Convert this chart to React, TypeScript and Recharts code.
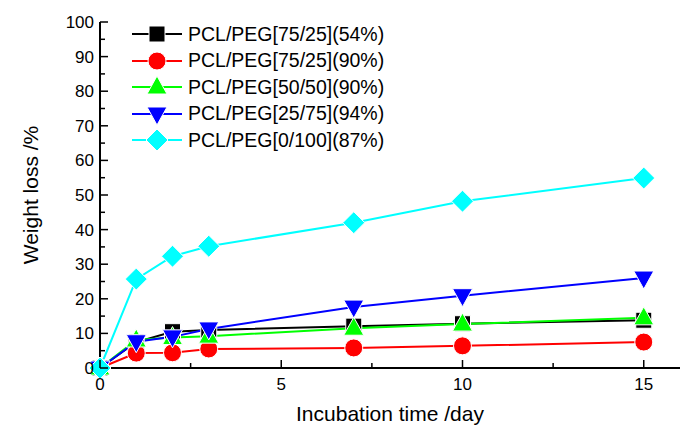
import React from "react"
import { LineChart, XAxis, YAxis, Line, Legend, Label } from "recharts"

const days = [0, 1, 2, 3, 7, 10, 15]
const pcl75_25_54 = [0, 7.5, 10.5, 11, 12.1, 12.8, 13.8]
const pcl75_25_90 = [0, 4.3, 4.4, 5.5, 5.8, 6.4, 7.5]
const pcl50_50_90 = [0, 8.1, 8.8, 9.2, 11.5, 12.7, 14.5]
const pcl25_75_94 = [0, 7.6, 9, 11.3, 17.6, 20.9, 26]
const pcl0_100_87 = [0, 25.7, 32.3, 35.2, 42, 48.2, 54.9]

const xTicks = [0, 2.5, 5, 7.5, 10, 12.5, 15]
const yTicks = [0, 5, 10, 15, 20, 25, 30, 35, 40, 45, 50, 55, 60, 65, 70, 75, 80, 85, 90, 95, 100]

const FONT = "'Liberation Sans', Arial, sans-serif"

type Shape = "square" | "circle" | "triangle" | "triangleDown" | "diamond"

const series: { key: string; name: string; color: string; shape: Shape; values: number[] }[] = [
    { key: "s1", name: "PCL/PEG[75/25](54%)", color: "#000000", shape: "square", values: pcl75_25_54 },
    { key: "s2", name: "PCL/PEG[75/25](90%)", color: "#ff0000", shape: "circle", values: pcl75_25_90 },
    { key: "s3", name: "PCL/PEG[50/50](90%)", color: "#00ff00", shape: "triangle", values: pcl50_50_90 },
    { key: "s4", name: "PCL/PEG[25/75](94%)", color: "#0000ff", shape: "triangleDown", values: pcl25_75_94 },
    { key: "s5", name: "PCL/PEG[0/100](87%)", color: "#00ffff", shape: "diamond", values: pcl0_100_87 },
]

const data = days.map((d, i) => {
    const row: Record<string, number> = { day: d }
    series.forEach(s => { row[s.key] = s.values[i] })
    return row
})

function Marker(props: { cx: number; cy: number; color: string; shape: Shape }) {
    const { cx, cy, color, shape } = props
    const common = { fill: color, stroke: "#ffffff", strokeWidth: 1 }
    if (shape === "square") return <rect x={cx - 8} y={cy - 8} width={16} height={16} {...common} />
    if (shape === "circle") return <circle cx={cx} cy={cy} r={9} {...common} />
    if (shape === "triangle")
        return <polygon points={`${cx},${cy - 11} ${cx + 10},${cy + 7} ${cx - 10},${cy + 7}`} {...common} />
    if (shape === "triangleDown")
        return <polygon points={`${cx},${cy + 11} ${cx + 10},${cy - 7} ${cx - 10},${cy - 7}`} {...common} />
    return <polygon points={`${cx},${cy - 11} ${cx + 11},${cy} ${cx},${cy + 11} ${cx - 11},${cy}`} {...common} />
}

function XTick(props: any) {
    const { x, y, payload } = props
    const major = payload.value % 5 === 0
    return (
        <g>
            <line x1={x} y1={y} x2={x} y2={y - (major ? 8 : 5)} stroke="#000" strokeWidth={1.5} />
            {major && (
                <text x={x} y={y + 22} textAnchor="middle" fontSize={17} fontFamily={FONT} fill="#000">
                    {payload.value}
                </text>
            )}
        </g>
    )
}

function YTick(props: any) {
    const { x, y, payload } = props
    const major = payload.value % 10 === 0
    return (
        <g>
            <line x1={x} y1={y} x2={x + (major ? 8 : 5)} y2={y} stroke="#000" strokeWidth={1.5} />
            {major && (
                <text x={x - 6} y={y + 6} textAnchor="end" fontSize={17} fontFamily={FONT} fill="#000">
                    {payload.value}
                </text>
            )}
        </g>
    )
}

function LegendBox() {
    return (
        <div style={{ fontFamily: FONT }}>
            {series.map(s => (
                <div key={s.key} style={{ display: "flex", alignItems: "center", height: 26.5 }}>
                    <svg width={56} height={26} style={{ display: "block" }}>
                        <line x1={2} y1={13} x2={52} y2={13} stroke={s.color} strokeWidth={2} />
                        <Marker cx={27} cy={13} color={s.color} shape={s.shape} />
                    </svg>
                    <span style={{ fontSize: 19.5, marginLeft: 2, color: "#000", whiteSpace: "nowrap" }}>{s.name}</span>
                </div>
            ))}
        </div>
    )
}

export default function App() {
    return (
        <div style={{ position: "absolute", left: 0, top: 0 }}>
            <LineChart
                width={681}
                height={426}
                data={data}
                margin={{ top: 22, right: 1, left: 0, bottom: 0 }}
            >
                <XAxis
                    dataKey="day"
                    type="number"
                    domain={[0, 16]}
                    ticks={xTicks}
                    height={58}
                    tickSize={0}
                    tickMargin={0}
                    tick={<XTick />}
                    axisLine={{ stroke: "#000", strokeWidth: 2 }}
                    tickLine={false}
                    interval={0}
                >
                    <Label
                        value="Incubation time /day"
                        position="insideBottom"
                        offset={5}
                        style={{ fontSize: 21, fontFamily: FONT, fill: "#000" }}
                    />
                </XAxis>
                <YAxis
                    type="number"
                    domain={[0, 100]}
                    ticks={yTicks}
                    width={100}
                    tickSize={0}
                    tickMargin={0}
                    tick={<YTick />}
                    axisLine={{ stroke: "#000", strokeWidth: 2 }}
                    tickLine={false}
                    interval={0}
                >
                    <Label
                        content={() => (
                            <text
                                x={30}
                                y={195}
                                transform="rotate(-90 30 195)"
                                textAnchor="middle"
                                dominantBaseline="central"
                                fontSize={21}
                                fontFamily={FONT}
                                fill="#000"
                            >
                                Weight loss /%
                            </text>
                        )}
                    />
                </YAxis>
                <Legend
                    content={() => <LegendBox />}
                    layout="vertical"
                    verticalAlign="middle"
                    align="center"
                    wrapperStyle={{ left: 130, top: 21, width: 290 }}
                />
                {series.map(s => (
                    <Line
                        key={s.key}
                        dataKey={s.key}
                        name={s.name}
                        stroke={s.color}
                        strokeWidth={2}
                        isAnimationActive={false}
                        dot={(p: any) => <Marker key={`${s.key}-${p.index}`} cx={p.cx} cy={p.cy} color={s.color} shape={s.shape} />}
                        activeDot={false}
                    />
                ))}
            </LineChart>
        </div>
    )
}
